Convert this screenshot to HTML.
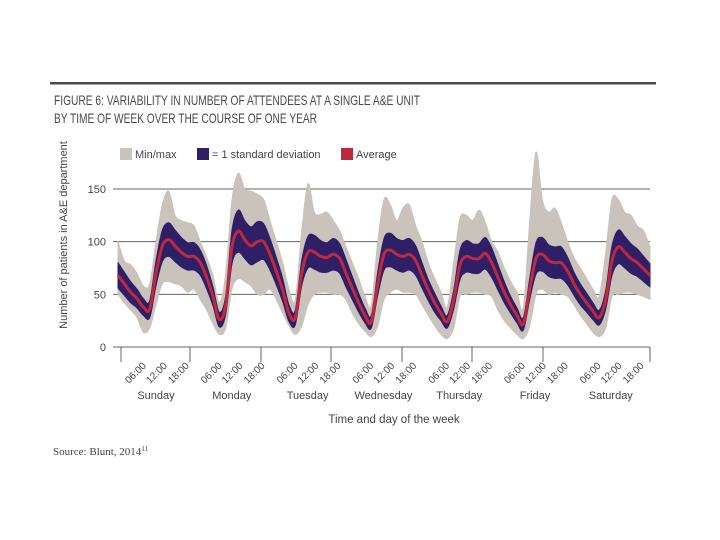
<!DOCTYPE html>
<html><head><meta charset="utf-8"><style>
html,body{margin:0;padding:0;background:#fff;}
svg{display:block;font-family:"Liberation Sans",sans-serif;}
</style></head><body>
<svg id="chart" width="720" height="540" viewBox="0 0 720 540" xmlns="http://www.w3.org/2000/svg">
<rect x="50" y="82" width="606" height="2.5" fill="#4a4a4a"/>
<text x="54" y="105" font-size="14" fill="#4a4a4a" textLength="366" lengthAdjust="spacingAndGlyphs">FIGURE 6: VARIABILITY IN NUMBER OF ATTENDEES AT A SINGLE A&amp;E UNIT</text>
<text x="54" y="123" font-size="14" fill="#4a4a4a" textLength="263" lengthAdjust="spacingAndGlyphs">BY TIME OF WEEK OVER THE COURSE OF ONE YEAR</text>
<g id="legend">
<rect x="120" y="148" width="12" height="12" fill="#c9c3bb"/>
<text x="135" y="158" font-size="11" fill="#444">Min/max</text>
<rect x="197" y="148" width="12" height="12" fill="#2e1f66"/>
<text x="212" y="158" font-size="11" fill="#444">= 1 standard deviation</text>
<rect x="341" y="148" width="12" height="12" fill="#c0283e"/>
<text x="356" y="158" font-size="11" fill="#444">Average</text>
</g>
<g id="grid"></g>
<g id="plot"></g>
<g id="axes"></g>
<text transform="translate(67,235) rotate(-90)" text-anchor="middle" font-size="11" fill="#444">Number of patients in A&amp;E department</text>
<text x="394" y="423" text-anchor="middle" font-size="11.5" fill="#444">Time and day of the week</text>
<text x="53" y="455" font-size="11" fill="#444" font-family="Liberation Serif, serif">Source: Blunt, 2014<tspan font-size="7" dy="-4">11</tspan></text>
</svg>
<script>
const days = ["Sunday","Monday","Tuesday","Wednesday","Thursday","Friday","Saturday"];
const timeLabels = ["06:00","12:00","18:00"];
const yTicks = [0,50,100,150];
// values every 2 hours, 85 points (hour 0..168)
const avg = [68,60,52,46,38,36,70,96,102,96,90,86,
86,80,66,48,26,40,95,110,102,96,100,100,
88,72,54,32,28,70,90,90,86,85,88,84,
70,56,42,30,24,60,88,92,88,86,88,82,
68,54,42,32,24,45,78,86,84,84,89,80,
66,52,40,30,22,55,84,88,82,80,80,72,
60,50,42,34,28,45,82,95,90,84,80,74,68];
const sd = [12,11,10,9,8,8,12,15,16,15,14,13,
13,12,11,9,7,9,16,20,18,18,19,17,
15,13,11,8,7,12,15,16,15,14,15,14,
13,11,9,7,6,11,15,16,15,15,15,14,
12,10,9,7,6,9,14,15,14,14,15,14,
12,10,8,7,6,10,15,16,15,15,15,13,
11,10,9,8,7,9,14,16,15,14,13,12,11];
const maxV = [100,82,78,70,58,60,100,135,148,125,120,118,
115,100,85,68,42,70,140,165,150,148,145,140,
120,100,80,55,45,110,155,128,126,128,120,110,
95,80,65,48,40,100,140,135,120,132,135,115,
100,80,65,52,38,80,122,125,120,130,118,100,
90,75,62,52,38,120,185,140,128,132,118,100,
85,75,65,55,48,90,140,140,128,125,115,110,95];
const minV = [50,42,35,28,14,18,40,60,62,60,58,52,
55,45,35,22,12,18,55,65,62,58,50,50,
55,45,32,20,12,20,40,50,52,52,50,50,
45,32,22,15,10,20,45,52,55,52,52,50,
40,30,20,12,8,18,48,50,52,52,50,48,
35,25,18,12,8,20,50,55,50,52,50,48,
40,30,22,14,10,18,48,50,52,52,50,48,45];

const NS="http://www.w3.org/2000/svg";
const X0=118, X1=650, Y0=347, YPER=(347-189)/150;
function xs(h){return X0+(X1-X0)*h/168;}
function ys(v){return Y0-v*YPER;}
function mk(tag,attrs,parent){const e=document.createElementNS(NS,tag);for(const k in attrs)e.setAttribute(k,attrs[k]);parent.appendChild(e);return e;}
const grid=document.getElementById('grid'), plot=document.getElementById('plot'), axes=document.getElementById('axes');

yTicks.forEach(v=>{
  if(v>0){const l=mk('line',{x1:113,x2:650,y1:ys(v),y2:ys(v),stroke:'#666','stroke-width':1},grid);
  
  }
  const t=mk('text',{x:106,y:ys(v)+4,'text-anchor':'end','font-size':11,fill:'#444'},axes);
  t.textContent=v;
  
  
});

function smooth(pts,start){
  let d=(start?'M':'L')+pts[0][0].toFixed(1)+','+pts[0][1].toFixed(1);
  for(let i=0;i<pts.length-1;i++){
    const p0=pts[Math.max(0,i-1)],p1=pts[i],p2=pts[i+1],p3=pts[Math.min(pts.length-1,i+2)];
    const c1=[p1[0]+(p2[0]-p0[0])/6,p1[1]+(p2[1]-p0[1])/6];
    const c2=[p2[0]-(p3[0]-p1[0])/6,p2[1]-(p3[1]-p1[1])/6];
    d+='C'+c1[0].toFixed(1)+','+c1[1].toFixed(1)+' '+c2[0].toFixed(1)+','+c2[1].toFixed(1)+' '+p2[0].toFixed(1)+','+p2[1].toFixed(1);
  }
  return d;
}
function pts(arr){return arr.map((v,i)=>[xs(i*2),ys(v)]);}
function band(lo,hi,color,name){
  const d=smooth(pts(hi),true)+smooth(pts(lo).reverse(),false)+'Z';
  const p=mk('path',{d:d,fill:color,stroke:color,'stroke-width':1,'stroke-linejoin':'round'},plot);
  
  
}
band(minV,maxV,'#c9c3bb','minmax-band');
band(avg.map((v,i)=>v-sd[i]),avg.map((v,i)=>v+sd[i]),'#2e1f66','sd-band');
const line=mk('path',{d:smooth(pts(avg),true),fill:'none',stroke:'#c0283e','stroke-width':3,'stroke-linejoin':'round'},plot);



const base=mk('line',{x1:113,x2:650,y1:Y0,y2:Y0,stroke:'#666','stroke-width':1},axes);


const tickXs=[121,190,261,331,402,472,543,650];
tickXs.forEach((x,i)=>{const t=mk('line',{x1:x,x2:x,y1:Y0,y2:Y0+15,stroke:'#666','stroke-width':1},axes);
  
  });
days.forEach((d,i)=>{
  const cx=156+i*75.8;
  const t=mk('text',{x:cx,y:399,'text-anchor':'middle','font-size':11,fill:'#444'},axes);
  t.textContent=d;
  
  
  const offs=[-27,-6,16];
  timeLabels.forEach((tl,j)=>{
    const x=cx+offs[j], y=384;
    const e=mk('text',{x:x,y:y,'text-anchor':'start','font-size':10,fill:'#444',transform:'rotate(-45 '+x+' '+y+')'},axes);
    e.textContent=tl;
    
    
  });
});
</script>
</body></html>
